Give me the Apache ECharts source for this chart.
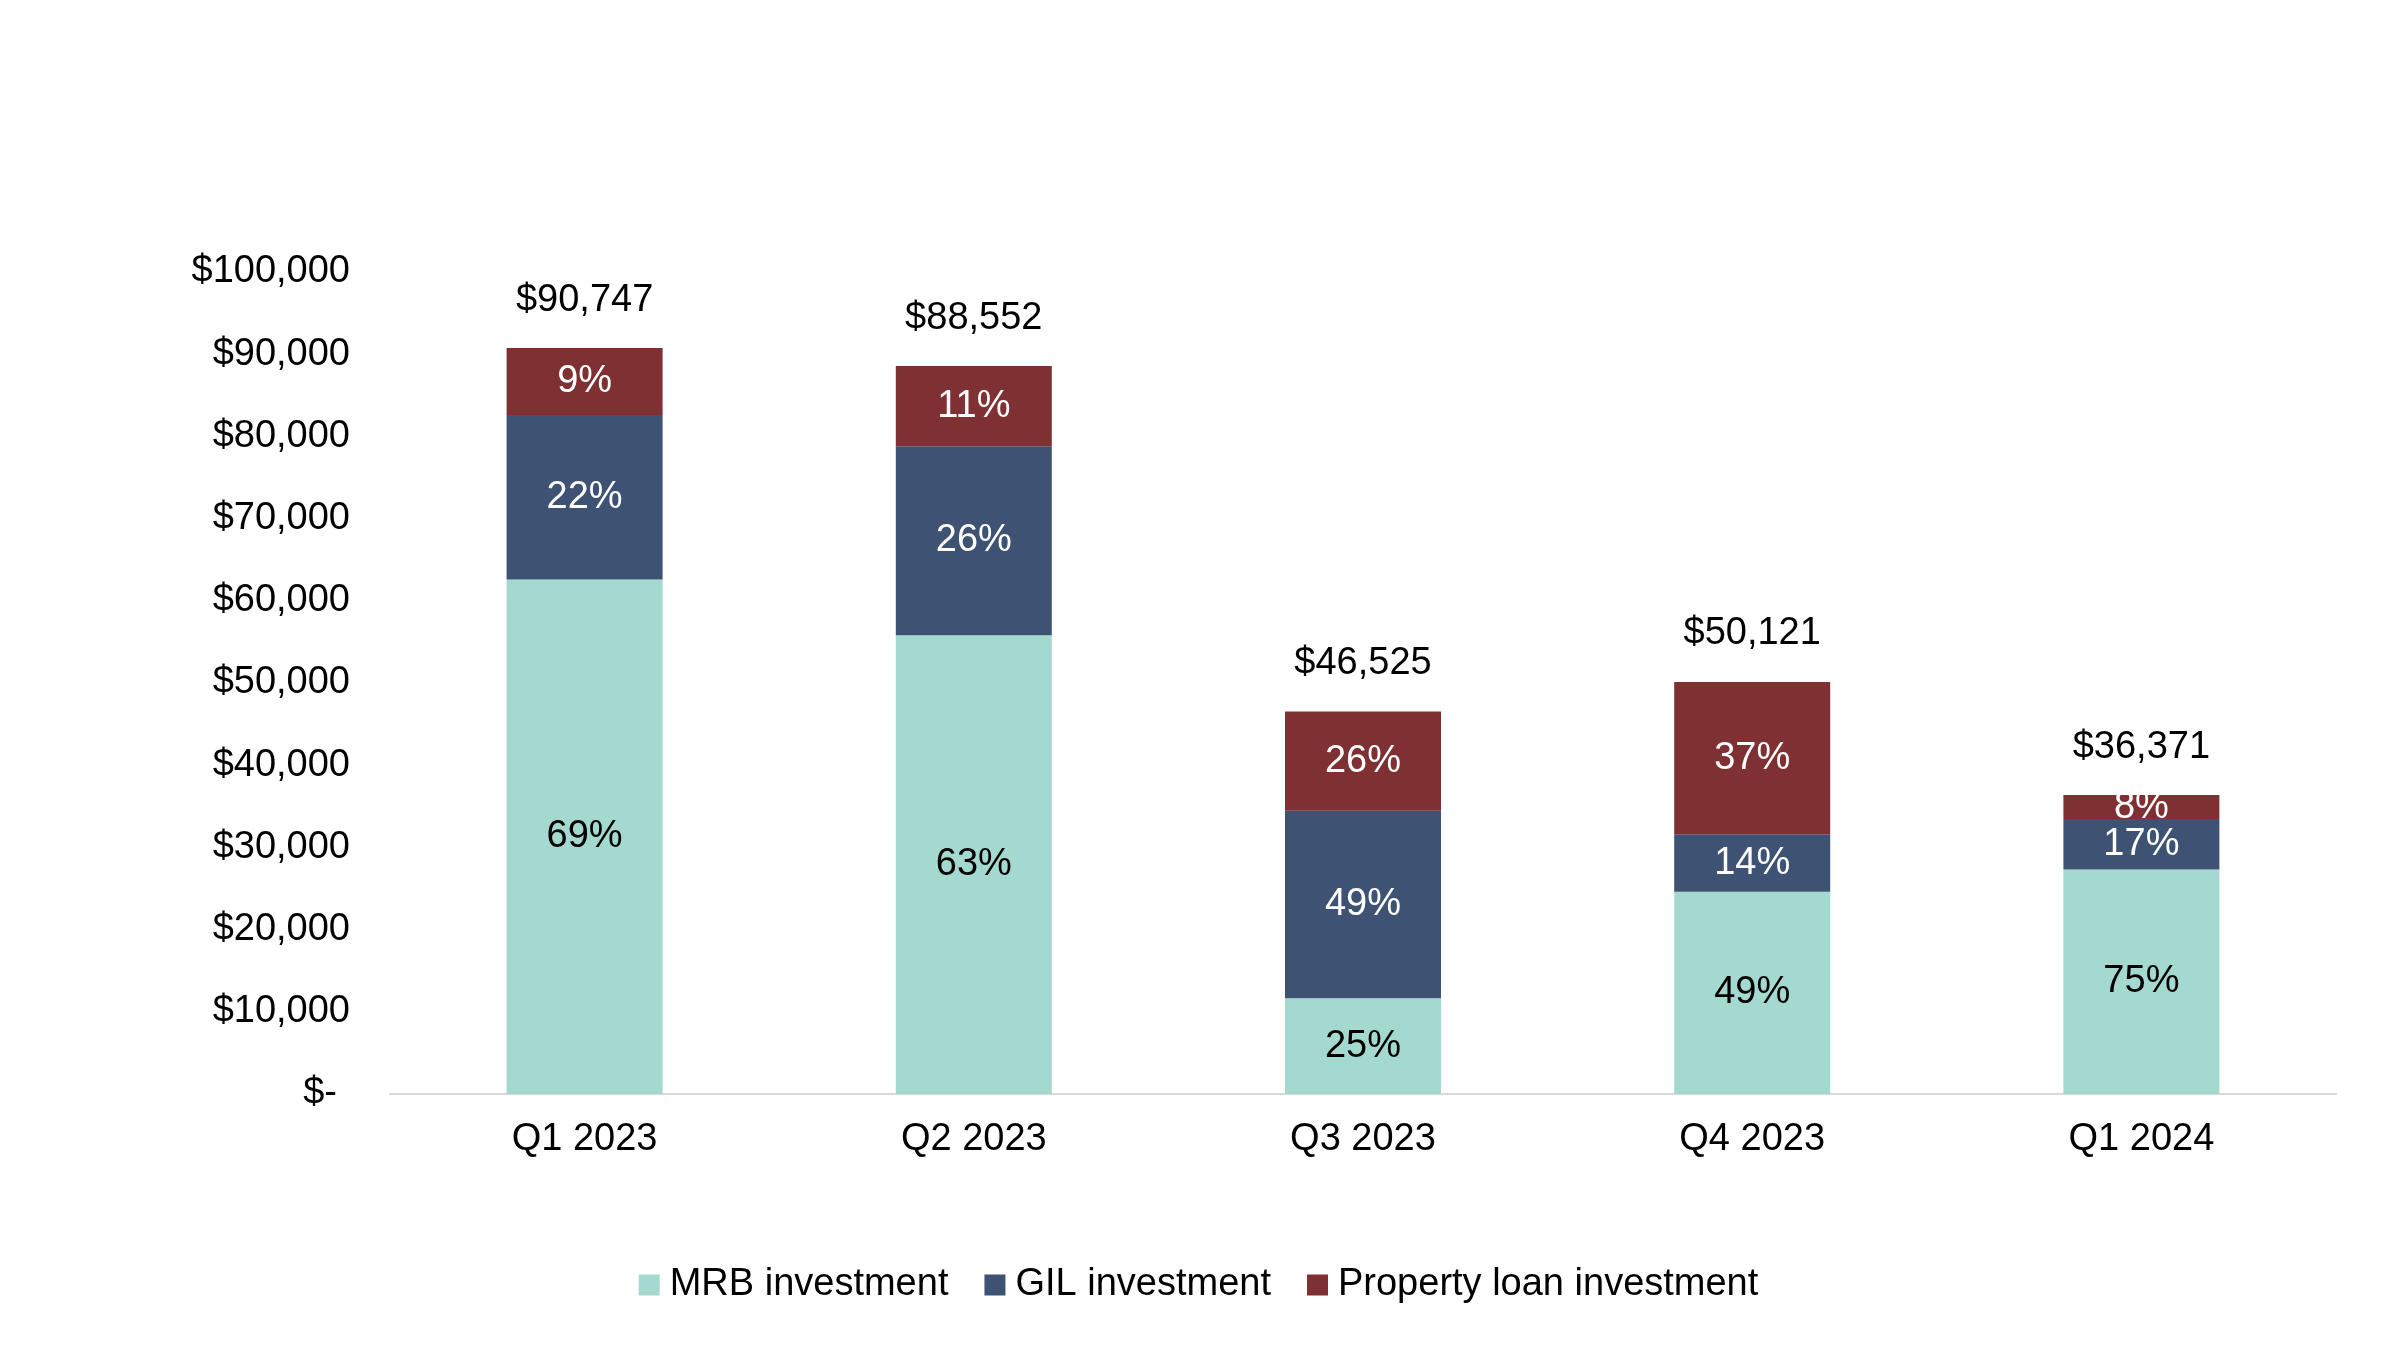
<!DOCTYPE html>
<html>
<head>
<meta charset="utf-8">
<script src="https://cdn.jsdelivr.net/npm/echarts@6/dist/echarts.min.js"></script>
<style>
html,body{margin:0;padding:0;background:#fff;}
#chart{width:2397px;height:1347px;}
</style>
</head>
<body>
<div id="chart"></div>
<script>
const categories = ['Q1 2023', 'Q2 2023', 'Q3 2023', 'Q4 2023', 'Q1 2024'];
const mrb = [62600, 55800, 11650, 24600, 27300];
const gil = [20000, 23000, 22800, 7000, 6150];
const prop = [8147, 9752, 12075, 18521, 2921];
const totals = [90747, 88552, 46525, 50121, 36371];

const FONT = '"Liberation Sans", Arial, sans-serif';
const FS = 38;
const fmtMoney = v => '$' + v.toLocaleString('en-US');
const pct = (arr) => (p) => Math.round(arr[p.dataIndex] / totals[p.dataIndex] * 100) + '%';

const chart = echarts.init(document.getElementById('chart'));
chart.setOption({
  animation: false,
  backgroundColor: '#ffffff',
  textStyle: { fontFamily: FONT },
  grid: { left: 390, right: 61, top: 272, bottom: 253, containLabel: false },
  legend: {
    data: ['MRB investment', 'GIL investment', 'Property loan investment'],
    bottom: 38,
    left: 'center',
    itemWidth: 21,
    itemHeight: 21,
    itemGap: 36,
    icon: 'rect',
    textStyle: { fontSize: FS, color: '#000', fontFamily: FONT, padding: [0, 0, 0, 5] }
  },
  xAxis: {
    type: 'category',
    data: categories,
    axisLine: { show: true, lineStyle: { color: '#d9d9d9', width: 2 } },
    axisTick: { show: false },
    axisLabel: { fontSize: FS, color: '#000', margin: 27, fontFamily: FONT }
  },
  yAxis: {
    type: 'value',
    min: 0,
    max: 100000,
    interval: 10000,
    splitLine: { show: false },
    axisLine: { show: false },
    axisTick: { show: false },
    axisLabel: {
      fontSize: FS, color: '#000', margin: 40, fontFamily: FONT,
      formatter: v => v === 0 ? '{z|$-}' : fmtMoney(v),
      rich: { z: { fontSize: FS, color: '#000', fontFamily: FONT, padding: [0, 13, 0, 0] } }
    }
  },
  series: [
    {
      name: 'MRB investment', type: 'bar', stack: 'a', data: mrb, barWidth: 156,
      itemStyle: { color: '#A4D9CF' },
      label: { show: true, position: 'inside', formatter: pct(mrb), fontSize: FS, color: '#000', fontFamily: FONT }
    },
    {
      name: 'GIL investment', type: 'bar', stack: 'a', data: gil, barWidth: 156,
      itemStyle: { color: '#3E5274' },
      label: { show: true, position: 'inside', formatter: pct(gil), fontSize: FS, color: '#fff', fontFamily: FONT }
    },
    {
      name: 'Property loan investment', type: 'bar', stack: 'a', data: prop, barWidth: 156,
      itemStyle: { color: '#7F3032' },
      label: { show: true, position: 'inside', formatter: pct(prop), fontSize: FS, color: '#fff', fontFamily: FONT }
    },
    {
      name: 'Total', type: 'scatter', data: totals, symbolSize: 2,
      itemStyle: { color: 'rgba(255,255,255,0)' },
      label: { show: true, position: 'top', distance: 28, opacity: 1, formatter: p => fmtMoney(totals[p.dataIndex]), fontSize: FS, color: '#000000', fontFamily: FONT },
      silent: true
    }
  ]
});
</script>
</body>
</html>
